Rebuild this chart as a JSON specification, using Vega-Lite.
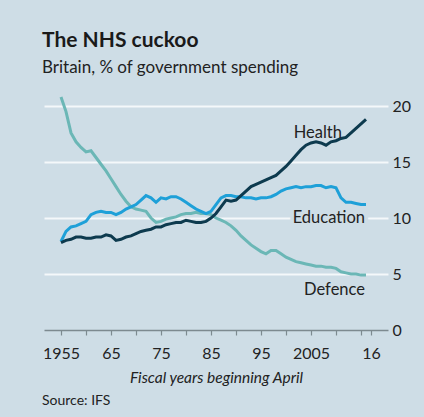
{
  "$schema": "https://vega.github.io/schema/vega-lite/v6.json",
  "width": 344,
  "height": 224,
  "autosize": {"type": "none"},
  "padding": {"left": 44, "top": 106, "right": 36, "bottom": 87},
  "background": "#cedde6",
  "title": {
    "text": "The NHS cuckoo",
    "subtitle": "Britain, % of government spending",
    "anchor": "start",
    "frame": "group",
    "font": "Lato",
    "fontSize": 21,
    "fontWeight": "bold",
    "color": "#1a1a1a",
    "subtitleFont": "Lato",
    "subtitleFontSize": 17,
    "subtitleColor": "#222222",
    "subtitlePadding": 9,
    "offset": 15,
    "dx": -2
  },
  "config": {
    "view": {"stroke": null},
    "font": "Lato"
  },
  "datasets": {
    "series": [
      {"year": 1955, "Health": 7.8, "Education": 7.9, "Defence": 20.8},
      {"year": 1956, "Health": 8.0, "Education": 8.8, "Defence": 19.5},
      {"year": 1957, "Health": 8.1, "Education": 9.2, "Defence": 17.6},
      {"year": 1958, "Health": 8.3, "Education": 9.3, "Defence": 16.8},
      {"year": 1959, "Health": 8.3, "Education": 9.5, "Defence": 16.3},
      {"year": 1960, "Health": 8.2, "Education": 9.7, "Defence": 15.9},
      {"year": 1961, "Health": 8.2, "Education": 10.3, "Defence": 16.0},
      {"year": 1962, "Health": 8.3, "Education": 10.5, "Defence": 15.4},
      {"year": 1963, "Health": 8.3, "Education": 10.6, "Defence": 14.8},
      {"year": 1964, "Health": 8.5, "Education": 10.5, "Defence": 14.2},
      {"year": 1965, "Health": 8.4, "Education": 10.5, "Defence": 13.5},
      {"year": 1966, "Health": 8.0, "Education": 10.3, "Defence": 12.8},
      {"year": 1967, "Health": 8.1, "Education": 10.5, "Defence": 12.1},
      {"year": 1968, "Health": 8.3, "Education": 10.8, "Defence": 11.5},
      {"year": 1969, "Health": 8.4, "Education": 11.0, "Defence": 11.0},
      {"year": 1970, "Health": 8.6, "Education": 11.2, "Defence": 10.8},
      {"year": 1971, "Health": 8.8, "Education": 11.6, "Defence": 10.7},
      {"year": 1972, "Health": 8.9, "Education": 12.0, "Defence": 10.6},
      {"year": 1973, "Health": 9.0, "Education": 11.8, "Defence": 10.0},
      {"year": 1974, "Health": 9.2, "Education": 11.4, "Defence": 9.6},
      {"year": 1975, "Health": 9.2, "Education": 11.8, "Defence": 9.7},
      {"year": 1976, "Health": 9.4, "Education": 11.7, "Defence": 9.9},
      {"year": 1977, "Health": 9.5, "Education": 11.9, "Defence": 10.0},
      {"year": 1978, "Health": 9.6, "Education": 11.9, "Defence": 10.1},
      {"year": 1979, "Health": 9.6, "Education": 11.7, "Defence": 10.3},
      {"year": 1980, "Health": 9.8, "Education": 11.4, "Defence": 10.4},
      {"year": 1981, "Health": 9.7, "Education": 11.1, "Defence": 10.4},
      {"year": 1982, "Health": 9.6, "Education": 10.8, "Defence": 10.5},
      {"year": 1983, "Health": 9.6, "Education": 10.6, "Defence": 10.4},
      {"year": 1984, "Health": 9.7, "Education": 10.4, "Defence": 10.4},
      {"year": 1985, "Health": 10.0, "Education": 10.6, "Defence": 10.3},
      {"year": 1986, "Health": 10.4, "Education": 11.2, "Defence": 10.0},
      {"year": 1987, "Health": 11.0, "Education": 11.8, "Defence": 9.8},
      {"year": 1988, "Health": 11.6, "Education": 12.0, "Defence": 9.6},
      {"year": 1989, "Health": 11.5, "Education": 12.0, "Defence": 9.3},
      {"year": 1990, "Health": 11.6, "Education": 11.9, "Defence": 8.9},
      {"year": 1991, "Health": 12.0, "Education": 11.9, "Defence": 8.4},
      {"year": 1992, "Health": 12.4, "Education": 11.8, "Defence": 8.0},
      {"year": 1993, "Health": 12.8, "Education": 11.8, "Defence": 7.6},
      {"year": 1994, "Health": 13.0, "Education": 11.7, "Defence": 7.3},
      {"year": 1995, "Health": 13.2, "Education": 11.8, "Defence": 7.0},
      {"year": 1996, "Health": 13.4, "Education": 11.8, "Defence": 6.8},
      {"year": 1997, "Health": 13.6, "Education": 11.9, "Defence": 7.1},
      {"year": 1998, "Health": 13.8, "Education": 12.1, "Defence": 7.1},
      {"year": 1999, "Health": 14.2, "Education": 12.4, "Defence": 6.8},
      {"year": 2000, "Health": 14.6, "Education": 12.6, "Defence": 6.5},
      {"year": 2001, "Health": 15.1, "Education": 12.7, "Defence": 6.3},
      {"year": 2002, "Health": 15.6, "Education": 12.8, "Defence": 6.1},
      {"year": 2003, "Health": 16.1, "Education": 12.7, "Defence": 6.0},
      {"year": 2004, "Health": 16.5, "Education": 12.8, "Defence": 5.9},
      {"year": 2005, "Health": 16.7, "Education": 12.8, "Defence": 5.8},
      {"year": 2006, "Health": 16.8, "Education": 12.9, "Defence": 5.7},
      {"year": 2007, "Health": 16.7, "Education": 12.9, "Defence": 5.7},
      {"year": 2008, "Health": 16.5, "Education": 12.7, "Defence": 5.6},
      {"year": 2009, "Health": 16.8, "Education": 12.8, "Defence": 5.6},
      {"year": 2010, "Health": 16.9, "Education": 12.7, "Defence": 5.5},
      {"year": 2011, "Health": 17.1, "Education": 11.8, "Defence": 5.2},
      {"year": 2012, "Health": 17.2, "Education": 11.4, "Defence": 5.1},
      {"year": 2013, "Health": 17.6, "Education": 11.4, "Defence": 5.0},
      {"year": 2014, "Health": 18.0, "Education": 11.3, "Defence": 5.0},
      {"year": 2015, "Health": 18.4, "Education": 11.2, "Defence": 4.9},
      {"year": 2016, "Health": 18.8, "Education": 11.2, "Defence": 4.9}
    ],
    "labels": [
      {"label": "Health", "year": 2011.2, "value": 17.6},
      {"label": "Education", "year": 2015.8, "value": 10.0},
      {"label": "Defence", "year": 2015.8, "value": 3.6}
    ],
    "notes": [
      {"label": "Source: IFS", "year": 1951.2, "value": -6.7}
    ]
  },
  "layer": [
    {
      "data": {"name": "series"},
      "mark": {"type": "line", "color": "#6bb7b6", "strokeWidth": 3},
      "encoding": {
        "x": {
          "field": "year", "type": "quantitative",
          "scale": {"domain": [1951.6, 2020.4], "nice": false, "zero": false},
          "axis": {
            "title": "Fiscal years beginning April",
            "titleFont": "Lato", "titleFontStyle": "italic", "titleFontWeight": "normal",
            "titleFontSize": 15.5, "titleColor": "#222222", "titlePadding": 9,
            "values": [1955, 1960, 1965, 1970, 1975, 1980, 1985, 1990, 1995, 2000, 2005, 2010, 2015, 2017],
            "tickCount": 30,
            "labelExpr": "datum.value == 1955 ? '1955' : datum.value == 1965 ? '65' : datum.value == 1975 ? '75' : datum.value == 1985 ? '85' : datum.value == 1995 ? '95' : datum.value == 2005 ? '2005' : datum.value == 2017 ? '16' : ''",
            "labelFont": "Lato", "labelFontSize": 16, "labelColor": "#222222", "labelPadding": 10,
            "labelOverlap": false, "labelFlush": false, "labelSeparation": 0, "labelBound": false,
            "grid": false, "domainColor": "#7d8a90", "domainWidth": 1.5,
            "tickColor": "#7d8a90", "tickSize": 5, "tickWidth": 1.2
          }
        },
        "y": {
          "field": "Defence", "type": "quantitative",
          "scale": {"domain": [0, 20], "nice": false},
          "axis": {
            "orient": "right", "title": null,
            "values": [0, 5, 10, 15, 20],
            "labelFont": "Lato", "labelFontSize": 16, "labelColor": "#222222", "labelPadding": 4,
            "ticks": false, "domain": false,
            "grid": true, "gridColor": {"condition": {"test": "datum.value == 0", "value": "transparent"}, "value": "#f4f8fa"},
            "gridWidth": 2
          }
        }
      }
    },
    {
      "data": {"name": "series"},
      "mark": {"type": "line", "color": "#1ea0d8", "strokeWidth": 3},
      "encoding": {
        "x": {"field": "year", "type": "quantitative"},
        "y": {"field": "Education", "type": "quantitative"}
      }
    },
    {
      "data": {"name": "series"},
      "mark": {"type": "line", "color": "#0d3a4e", "strokeWidth": 3},
      "encoding": {
        "x": {"field": "year", "type": "quantitative"},
        "y": {"field": "Health", "type": "quantitative"}
      }
    },
    {
      "data": {"name": "labels"},
      "transform": [{"filter": "datum.label == 'Education'"}],
      "mark": {"type": "text", "align": "right", "baseline": "middle", "font": "Lato", "fontSize": 16.5, "color": "#cedde6", "stroke": "#cedde6", "strokeWidth": 8},
      "encoding": {
        "x": {"field": "year", "type": "quantitative"},
        "y": {"field": "value", "type": "quantitative"},
        "text": {"field": "label"}
      }
    },
    {
      "data": {"name": "labels"},
      "mark": {"type": "text", "align": "right", "baseline": "middle", "font": "Lato", "fontSize": 16.5, "color": "#222222"},
      "encoding": {
        "x": {"field": "year", "type": "quantitative"},
        "y": {"field": "value", "type": "quantitative"},
        "text": {"field": "label"}
      }
    },
    {
      "data": {"name": "notes"},
      "mark": {"type": "text", "align": "left", "baseline": "alphabetic", "font": "Lato", "fontSize": 14, "color": "#222222"},
      "encoding": {
        "x": {"field": "year", "type": "quantitative"},
        "y": {"field": "value", "type": "quantitative"},
        "text": {"field": "label"}
      }
    }
  ]
}
